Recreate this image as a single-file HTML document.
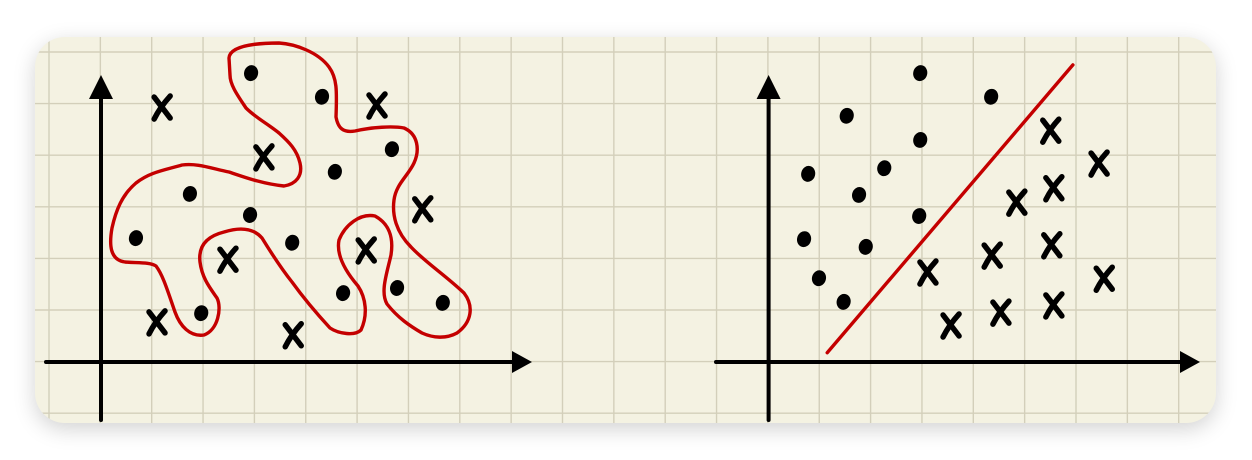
<!DOCTYPE html>
<html><head><meta charset="utf-8"><style>
html,body{margin:0;padding:0;background:#fff;width:1252px;height:460px;overflow:hidden;font-family:"Liberation Sans",sans-serif}
#card{position:absolute;left:35px;top:37px;width:1181px;height:386px;border-radius:30px;background:#f4f2e2;box-shadow:0 6px 22px rgba(0,0,0,0.18)}
svg{position:absolute;left:0;top:0}
</style></head><body>
<div id="card"></div>
<svg id="s" width="1252" height="460">
<defs><clipPath id="cp"><rect x="35" y="37" width="1181" height="386" rx="30"/></clipPath></defs>
<g id="grid" clip-path="url(#cp)"></g>
<g id="left"></g>
<g id="right"></g>
</svg>
<script>
// data (grid units relative to each chart origin)
const leftDotX=[2.92,4.30,5.66,4.55,1.73,2.90,0.68,3.72,4.71,5.76,6.65,1.95];
const leftDotY=[5.62,5.16,4.14,3.70,3.27,2.86,2.41,2.32,1.34,1.44,1.15,0.95];
const leftCrossX=[1.19,5.37,3.17,6.26,5.16,2.47,1.09,3.74];
const leftCrossY=[4.96,5.00,3.99,2.98,2.18,2.00,0.78,0.53];
const rightDotX=[2.95,4.33,1.52,2.95,2.25,0.77,1.76,2.93,0.69,1.89,0.98,1.46];
const rightDotY=[5.62,5.16,4.79,4.32,3.77,3.66,3.25,2.84,2.39,2.24,1.63,1.17];
const rightCrossX=[5.49,6.43,4.83,5.55,3.10,4.35,5.51,6.53,3.55,4.52,5.55];
const rightCrossY=[4.51,3.87,3.11,3.39,1.75,2.08,2.28,1.63,0.72,0.97,1.11];
const boundaryX=[1.14,5.92];
const boundaryY=[0.18,5.78];

const NS="http://www.w3.org/2000/svg";
const U=51.4;
function mk(tag,attrs,parent){const e=document.createElementNS(NS,tag);for(const k in attrs)e.setAttribute(k,attrs[k]);parent.appendChild(e);return e;}
const G=document.getElementById('grid');
for(let i=0;i<25;i++){const x=49+i*51.35;
 const l=mk('line',{x1:x,y1:0,x2:x,y2:460,stroke:'#d3cfba','stroke-width':1.4},G);
 
 }
for(let j=0;j<9;j++){const y=52+j*51.6;
 const l=mk('line',{x1:0,y1:y,x2:1252,y2:y,stroke:'#d3cfba','stroke-width':1.4},G);
 
 }

function drawAxes(g,ox,oy,x0,x1,ytop,ybot){
 let a=mk('line',{x1:ox,y1:ytop+18,x2:ox,y2:ybot,stroke:'#000','stroke-width':4,'stroke-linecap':'round'},g);
 
 let p=mk('polygon',{points:`${ox},${ytop} ${ox-12},${ytop+24} ${ox+12},${ytop+24}`,fill:'#000'},g);
 
 a=mk('line',{x1:x0,y1:oy,x2:x1-18,y2:oy,stroke:'#000','stroke-width':4,'stroke-linecap':'round'},g);
 
 p=mk('polygon',{points:`${x1},${oy} ${x1-20},${oy-11} ${x1-20},${oy+11}`,fill:'#000'},g);
 
}
function sx(ox,v){return ox+v*U;}
function sy(oy,v){return oy-v*U;}
function dots(g,ox,oy,xs,ys){xs.forEach((v,i)=>{
 const e=mk('ellipse',{cx:sx(ox,v),cy:sy(oy,ys[i]),rx:7,ry:8,fill:'#000',transform:`rotate(15 ${sx(ox,v)} ${sy(oy,ys[i])})`},g);
 });}
function crosses(g,ox,oy,xs,ys){xs.forEach((v,i)=>{
 const cx=sx(ox,v),cy=sy(oy,ys[i]);
 const e=mk('path',{d:`M${cx-8},${cy-10} L${cx+8},${cy+11} M${cx+8},${cy-11} Q${cx-2},${cy} ${cx-8},${cy+12}`,stroke:'#000','stroke-width':5.5,fill:'none','stroke-linecap':'round'},g);
 });}

const L=document.getElementById('left'),R=document.getElementById('right');
drawAxes(L,101,362,46,532,75,420);
drawAxes(R,768.6,362,716,1200,75,420);

const blob=mk('path',{d:"M229,58 C230,45 260,43 279,43 C295,44 318,52 329,67 C337,78 337,90 336,117 C338,128 343,133 355,131 C372,127 393,126 404,128 C418,134 420,150 414,163 C408,176 396,184 394,200 C392,215 396,232 411,247 C425,262 445,275 464,293 C474,306 472,322 457,333 C446,339 433,338 422,333 C410,326 398,318 387,304 C380,292 387,273 391,255 C394,236 388,223 375,216 C360,213 345,225 339,240 C336,255 346,272 358,286 C366,298 368,315 361,330 C355,336 339,334 330,328 C318,315 305,300 292,282 C280,267 270,251 262,238 C255,230 243,226 224,232 C208,236 198,245 200,262 C202,278 210,288 217,298 C222,308 218,330 204,335 C190,337 180,326 175,312 C168,292 163,275 156,266 C150,262 138,263 125,262 C110,260 109,245 112,228 C116,210 122,195 136,183 C150,172 165,170 182,165 C197,163 210,168 229,172 C244,177 263,184 284,186 C296,184 303,176 300,163 C297,150 289,142 279,133 C268,124 256,118 246,108 C238,96 230,85 230,75 Z",fill:'none',stroke:'#c40000','stroke-width':3.4,'stroke-linejoin':'round'},L);



dots(L,101,362,leftDotX,leftDotY);
crosses(L,101,362,leftCrossX,leftCrossY);

const bl=mk('line',{x1:sx(768.6,boundaryX[0]),y1:sy(362,boundaryY[0]),x2:sx(768.6,boundaryX[1]),y2:sy(362,boundaryY[1]),stroke:'#c40000','stroke-width':3.4,'stroke-linecap':'round'},R);


dots(R,768.6,362,rightDotX,rightDotY);
crosses(R,768.6,362,rightCrossX,rightCrossY);
</script>
</body></html>
